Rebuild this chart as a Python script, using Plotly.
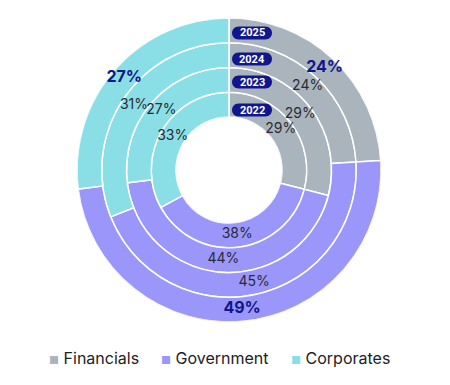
import plotly.graph_objects as go

categories = ["Financials", "Government", "Corporates"]
years = ["2022", "2023", "2024", "2025"]
values_2022 = [29, 38, 33]
values_2023 = [29, 44, 27]
values_2024 = [24, 45, 31]
values_2025 = [24, 49, 27]
series = [values_2022, values_2023, values_2024, values_2025]

colors = ["#aab4bd", "#9b97fa", "#8adfe6"]
NAVY = "#10168c"
TEXT = "#2a2a35"

# page body adds an 8px margin; work in screenshot pixels and shift
OFF = 8
W, H = 450 - OFF, 385 - OFF
CX, CY = 229, 170       # centre of the rings (screenshot px)
R_OUT, R_HOLE = 152, 53


def px_x(x):
    return (x - OFF) / W


def px_y(y):
    return 1 - (y - OFF) / H


# angles from the data (cumulative percent -> degrees)
starts, widths = [], []
for vals in series:
    tot = sum(vals)
    acc = 0
    s_row, w_row = [], []
    for v in vals:
        s_row.append(acc / tot * 360)
        w_row.append(v / tot * 360)
        acc += v
    starts.append(s_row)
    widths.append(w_row)

fig = go.Figure()
for j, (cat, col) in enumerate(zip(categories, colors)):
    fig.add_trace(go.Barpolar(
        name=cat,
        r=[1] * len(years),
        base=list(range(len(years))),
        theta=[starts[i][j] + widths[i][j] / 2 for i in range(len(years))],
        width=[widths[i][j] for i in range(len(years))],
        marker=dict(color=col, line=dict(color="white", width=1.5)),
        hoverinfo="skip",
        showlegend=False,
    ))

for ring_set, size, color, weight in [(range(0, 3), 14, TEXT, "normal"), (range(3, 4), 16, NAVY, "bold")]:
    rr, tt, tx = [], [], []
    for i in ring_set:
        for j in range(len(categories)):
            rr.append(i + 0.5)
            tt.append(starts[i][j] + widths[i][j] / 2)
            tx.append(f"{series[i][j]}%")
    fig.add_trace(go.Scatterpolar(
        r=rr, theta=tt, text=tx, mode="text",
        textfont=dict(family="Inter", size=size, color=color, weight=weight),
        hoverinfo="skip", showlegend=False,
    ))

# year pills
pill_y = [110, 82, 59, 33]
px0, px1, ph = 232, 272, 13
shapes = []
annotations = []
k = 0.5523
for yr, yc in zip(years, pill_y):
    r = ph / 2
    yt, yb = yc - r, yc + r
    pts = [
        ("M", [(px0 + r, yt)]),
        ("L", [(px1 - r, yt)]),
        ("C", [(px1 - r + k * r, yt), (px1, yc - k * r), (px1, yc)]),
        ("C", [(px1, yc + k * r), (px1 - r + k * r, yb), (px1 - r, yb)]),
        ("L", [(px0 + r, yb)]),
        ("C", [(px0 + r - k * r, yb), (px0, yc + k * r), (px0, yc)]),
        ("C", [(px0, yc - k * r), (px0 + r - k * r, yt), (px0 + r, yt)]),
    ]
    path = ""
    for cmd, plist in pts:
        path += cmd + " ".join(f"{px_x(x):.5f},{px_y(y):.5f}" for x, y in plist) + " "
    path += "Z"
    shapes.append(dict(type="path", xref="paper", yref="paper", path=path,
                       fillcolor=NAVY, line=dict(width=0), layer="above"))
    annotations.append(dict(x=px_x((px0 + px1) / 2), y=px_y(yc), xref="paper", yref="paper",
                            text=yr, showarrow=False, xanchor="center", yanchor="middle",
                            font=dict(family="Roboto", size=11, color="white", weight="bold")))

# legend
legend_x = [47, 159, 289]
for cat, col, lx in zip(categories, colors, legend_x):
    annotations.append(dict(
        x=px_x(lx), y=px_y(358), xref="paper", yref="paper",
        text=f"<span style='color:{col};font-size:11px'>■</span> {cat}",
        showarrow=False, xanchor="left", yanchor="middle",
        font=dict(family="Inter", size=16, color="#222222"),
    ))

fig.update_layout(
    width=W, height=H, autosize=False,
    margin=dict(l=0, r=0, t=0, b=0),
    paper_bgcolor="white", plot_bgcolor="white",
    polar=dict(
        domain=dict(x=[px_x(CX - R_OUT), px_x(CX + R_OUT)],
                    y=[px_y(CY + R_OUT), px_y(CY - R_OUT)]),
        hole=R_HOLE / R_OUT,
        bgcolor="white",
        radialaxis=dict(range=[0, len(years)], visible=False, showgrid=False),
        angularaxis=dict(rotation=90, direction="clockwise", visible=False,
                         showgrid=False, showline=False, ticks=""),
    ),
    shapes=shapes, annotations=annotations,
    showlegend=False,
)
fig.write_html("out.html")
